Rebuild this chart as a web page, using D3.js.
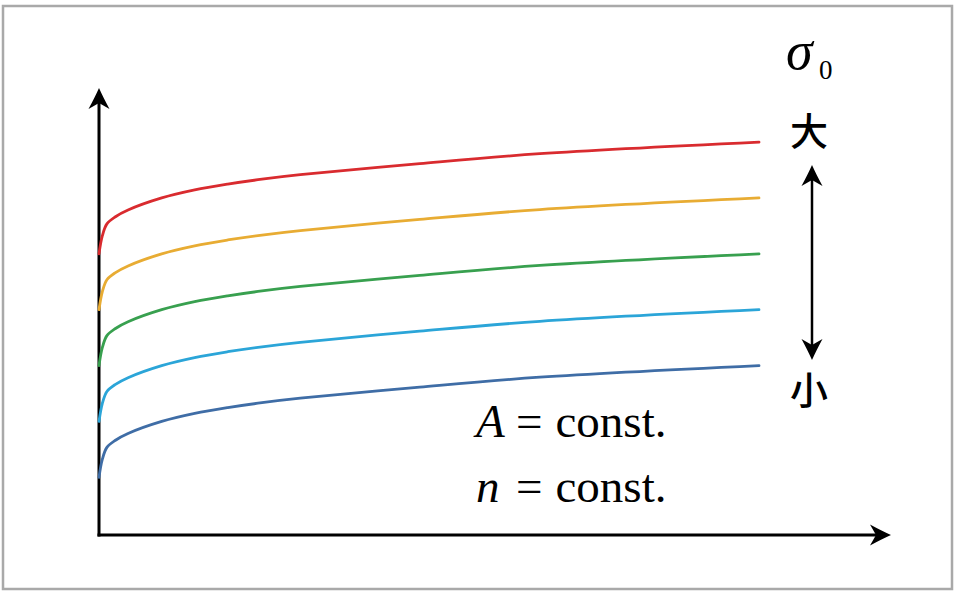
<!DOCTYPE html>
<html>
<head>
<meta charset="utf-8">
<script src="https://cdn.jsdelivr.net/npm/d3@7"></script>
<style>
  html, body { margin: 0; padding: 0; background: #fff; }
  svg { display: block; }
</style>
</head>
<body>
<svg id="chart" width="960" height="600"></svg>
<script>
// ---- data (dimensionless schematic: time t, stress level) ----
const tValues = [0, 0.05, 0.12, 0.25, 0.44, 0.95, 1.45, 1.95, 2.47, 3.05, 4.86, 6.68, 10];
const s5 = [62.9, 66.9, 69.6, 71.2, 72.7, 75.4, 77.2, 78.5, 79.6, 80.6, 83.1, 85.3, 87.9];
const s4 = [50.4, 54.4, 57.1, 58.7, 60.2, 62.9, 64.7, 66.0, 67.1, 68.1, 70.6, 72.8, 75.4];
const s3 = [37.9, 41.9, 44.6, 46.2, 47.7, 50.4, 52.2, 53.5, 54.6, 55.6, 58.1, 60.3, 62.9];
const s2 = [25.4, 29.4, 32.1, 33.7, 35.2, 37.9, 39.7, 41.0, 42.1, 43.1, 45.6, 47.8, 50.4];
const s1 = [12.9, 16.9, 19.6, 21.2, 22.7, 25.4, 27.2, 28.5, 29.6, 30.6, 33.1, 35.3, 37.9];
const seriesColors = ["#d92b2f", "#e8ac33", "#38a04f", "#2ba5d8", "#3f6da6"];
const labelTop = "大";
const labelBottom = "小";
const labelSigma = "σ";
const labelSub = "0";
const noteVars = ["A", "n"];
const noteEq = "=";
const noteConst = "const.";

const svg = d3.select("#chart");

// frame
svg.append("rect")
  .attr("x", 3).attr("y", 6).attr("width", 949).attr("height", 583)
  .attr("fill", "none").attr("stroke", "#a9a9a9").attr("stroke-width", 2.5);

const x = d3.scaleLinear().domain([0, 12]).range([99, 891]);
const y = d3.scaleLinear().domain([0, 100]).range([535, 88]);

function arrowHead(g, px, py, angleDeg) {
  g.append("path")
    .attr("d", "M0,0 Q-4,9 -10.5,21 L0,15 L10.5,21 Q4,9 0,0 Z")
    .attr("transform", `translate(${px},${py}) rotate(${angleDeg})`)
    .attr("fill", "#000");
}

const axes = svg.append("g");
// y axis
axes.append("line")
  .attr("x1", x(0)).attr("y1", y(0) + 1.5).attr("x2", x(0)).attr("y2", y(100) + 10)
  .attr("stroke", "#000").attr("stroke-width", 3);
arrowHead(axes, x(0), y(100), 0);
// x axis
axes.append("line")
  .attr("x1", x(0) - 1.5).attr("y1", y(0)).attr("x2", x(12) - 10).attr("y2", y(0))
  .attr("stroke", "#000").attr("stroke-width", 3);
arrowHead(axes, x(12), y(0), 90);

// curves
const allSeries = [s5, s4, s3, s2, s1];
const line = d3.line()
  .x((d, i) => x(tValues[i]))
  .y(d => y(d))
  .curve(d3.curveCatmullRom.alpha(0.5));

svg.append("g").selectAll("path")
  .data(allSeries)
  .join("path")
  .attr("d", d => line(d))
  .attr("fill", "none")
  .attr("stroke", (d, i) => seriesColors[i])
  .attr("stroke-width", 2.8)
  .attr("stroke-linecap", "round");

// double arrow
const ax = 812;
const g2 = svg.append("g");
g2.append("line")
  .attr("x1", ax).attr("y1", 175).attr("x2", ax).attr("y2", 350)
  .attr("stroke", "#000").attr("stroke-width", 2.5);
arrowHead(g2, ax, 165, 0);
arrowHead(g2, ax, 360, 180);

// labels
const serif = "'Liberation Serif', 'DejaVu Serif', serif";
svg.append("text")
  .attr("x", 786).attr("y", 69)
  .attr("font-family", serif)
  .attr("font-size", 54).attr("font-style", "italic").attr("fill", "#000")
  .text(labelSigma);
svg.append("text")
  .attr("x", 819).attr("y", 79)
  .attr("font-family", serif)
  .attr("font-size", 27).attr("fill", "#000")
  .text(labelSub);

const cjk = "'Noto Sans CJK SC', 'Noto Sans CJK JP', sans-serif";
svg.append("text")
  .attr("x", 809).attr("y", 128)
  .attr("text-anchor", "middle").attr("dominant-baseline", "central")
  .attr("font-family", cjk)
  .attr("font-size", 38).attr("font-weight", 500).attr("fill", "#000")
  .text(labelTop);
svg.append("text")
  .attr("x", 809).attr("y", 387)
  .attr("text-anchor", "middle").attr("dominant-baseline", "central")
  .attr("font-family", cjk)
  .attr("font-size", 38).attr("font-weight", 500).attr("fill", "#000")
  .text(labelBottom);

const baselines = [437, 502];
noteVars.forEach((v, i) => {
  const t = svg.append("text")
    .attr("y", baselines[i])
    .attr("font-family", serif)
    .attr("font-size", 47).attr("fill", "#000");
  t.append("tspan").attr("x", 476).attr("font-style", "italic").text(v);
  t.append("tspan").attr("x", 516).text(noteEq);
  t.append("tspan").attr("x", 555.5).text(noteConst);
});
</script>
</body>
</html>
